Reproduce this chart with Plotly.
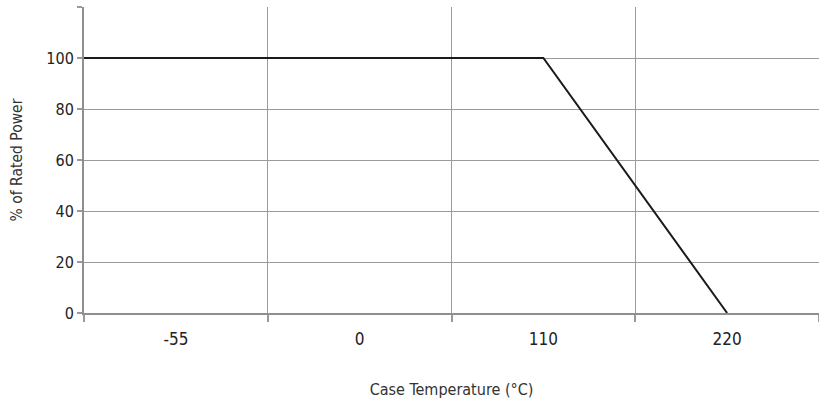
import plotly.graph_objects as go

# Data
temp_labels = ["-55", "0", "110", "220"]
curve_temp = ["-55", "110", "220"]
curve_power = [100, 100, 0]
y_ticks = [0, 20, 40, 60, 80, 100, 120]
y_ticktext = ["0", "20", "40", "60", "80", "100", ""]

x_range = [-0.5, 3.5]
x_pos = [temp_labels.index(t) for t in curve_temp]
x_pos[0] = x_range[0]  # curve starts at the left edge of the axis, as in the reference

FONT = "DejaVu Sans Condensed, Liberation Sans Narrow, sans-serif"
GRID = "#9a9a9e"

fig = go.Figure()
fig.add_trace(go.Scatter(x=x_pos, y=curve_power, mode="lines",
                         line=dict(color="#1a1a1a", width=2), showlegend=False,
                         hoverinfo="skip"))

fig.update_layout(
    width=819, height=400,
    margin=dict(l=84, r=0, t=7, b=87, autoexpand=False),
    paper_bgcolor="white", plot_bgcolor="white",
    font=dict(family=FONT, size=14, color="#333333"),
    xaxis=dict(
        range=x_range, tickmode="array",
        tickvals=list(range(len(temp_labels))), ticktext=temp_labels,
        ticks="", ticklen=0, showgrid=False, zeroline=False, automargin=False,
        showline=True, linecolor="#8e8e93", linewidth=2,
        tickfont=dict(size=17, color="#222222"), ticklabelstandoff=10,
        minor=dict(tickmode="linear", tick0=-0.5, dtick=1, ticks="outside",
                   ticklen=7, tickcolor=GRID, tickwidth=1.5,
                   showgrid=True, gridcolor=GRID, gridwidth=1.2),
        title=dict(text="Case Temperature (°C)", font=dict(size=16, color="#333333"),
                   standoff=35),
        fixedrange=True,
    ),
    yaxis=dict(
        range=[0, 120], tickmode="array", tickvals=y_ticks, ticktext=y_ticktext,
        ticks="outside", ticklen=5, tickcolor=GRID, tickwidth=1.5,
        showgrid=True, gridcolor=GRID, gridwidth=1.2, zeroline=False, automargin=False,
        showline=True, linecolor="#8e8e93", linewidth=2,
        tickfont=dict(size=16, color="#222222"),
        title=dict(text="% of Rated Power", font=dict(size=15.5, color="#333333"),
                   standoff=20),
        fixedrange=True,
    ),
)

fig.write_html("out.html", config={"displayModeBar": False},
               post_script="document.body.style.margin='0';document.body.style.overflow='hidden';")
